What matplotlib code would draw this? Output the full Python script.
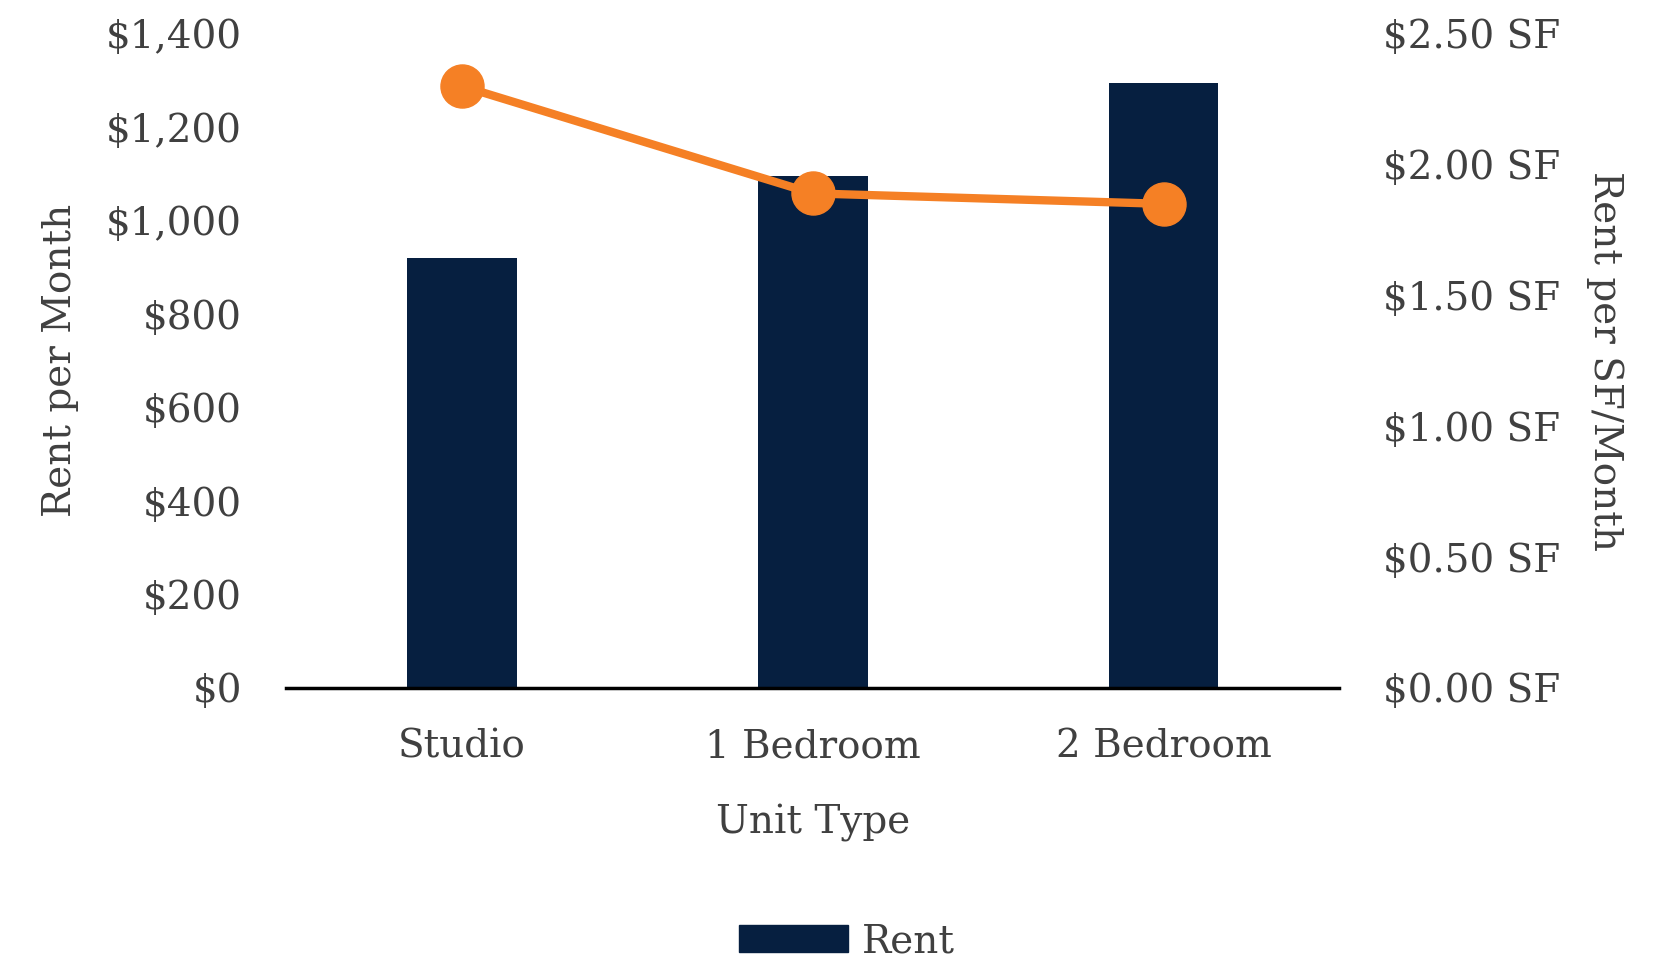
import matplotlib
matplotlib.use("Agg")
import matplotlib.pyplot as plt
from matplotlib.ticker import FuncFormatter, MultipleLocator
from matplotlib.patches import Patch

categories = ["Studio", "1 Bedroom", "2 Bedroom"]
rent = [920, 1095, 1295]
rent_per_sf = [2.30, 1.89, 1.85]

BAR = "#061F40"
LINE = "#F58025"
TXT = "#404040"
FS = 28

plt.rcParams['font.family'] = ['DejaVu Serif']

fig = plt.figure(figsize=(16.54, 9.59), dpi=100)
ax = fig.add_axes([0.1732, 0.2826, 0.6363, 0.6822])
x = range(len(categories))
ax.bar(x, rent, width=0.313, color=BAR, zorder=2)
ax.set_xlim(-0.5, 2.5)
ax.set_ylim(0, 1400)
ax.yaxis.set_major_locator(MultipleLocator(200))
ax.yaxis.set_major_formatter(FuncFormatter(lambda v, p: "${:,.0f}".format(v)))
ax.set_xticks(list(x))
ax.set_xticklabels(categories)
for s in ["top", "left", "right"]:
    ax.spines[s].set_visible(False)
ax.spines["bottom"].set_linewidth(2.5)
ax.spines["bottom"].set_color("black")
ax.spines["bottom"].set_zorder(5)
ax.tick_params(axis="both", length=0, labelsize=FS, colors=TXT)
ax.tick_params(axis="y", pad=32)
ax.tick_params(axis="x", pad=29)
ax.set_ylabel("Rent per Month", fontsize=FS, color=TXT, va="center")
ax.yaxis.set_label_coords(-0.215, 0.5)
ax.set_xlabel("Unit Type", fontsize=FS, color=TXT, va="center")
ax.xaxis.set_label_coords(0.5, -0.206)

ax2 = ax.twinx()
ax2.plot(list(x), rent_per_sf, color=LINE, lw=6, marker="o", markersize=31, zorder=3)
ax2.set_ylim(0, 2.5)
ax2.yaxis.set_major_locator(MultipleLocator(0.5))
ax2.yaxis.set_major_formatter(FuncFormatter(lambda v, p: "${:.2f} SF".format(v)))
for s in ["top", "left", "right", "bottom"]:
    ax2.spines[s].set_visible(False)
ax2.tick_params(axis="y", length=0, labelsize=FS, colors=TXT, pad=32)
ax2.set_ylabel("Rent per SF/Month", fontsize=FS, color=TXT, rotation=270, va="center")
ax2.yaxis.set_label_coords(1.2527, 0.5)

leg = fig.legend(handles=[Patch(color=BAR, label="Rent")], loc="center",
                 bbox_to_anchor=(0.512, 0.018), frameon=False, fontsize=FS,
                 handlelength=2.8, handleheight=0.7, handletextpad=0.36,
                 borderpad=0, borderaxespad=0)
for t in leg.get_texts():
    t.set_color(TXT)

fig.savefig("out.png", dpi=100)
